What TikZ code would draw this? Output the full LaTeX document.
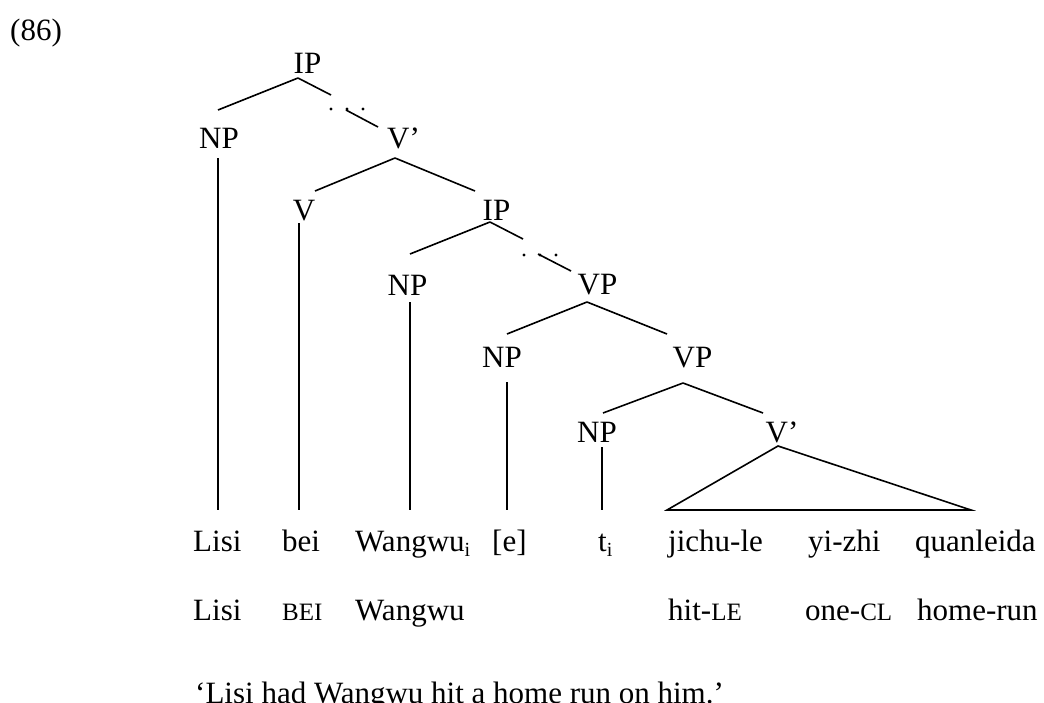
\documentclass[tikz,border=0pt]{standalone}
\usepackage{fontspec}
\setmainfont{Liberation Serif}
\newcommand{\smc}[1]{{\fontsize{25}{30}\selectfont #1}}
\newcommand{\subi}{\raisebox{-5pt}{\fontsize{20}{24}\selectfont i}}
\begin{document}
\begin{tikzpicture}[x=1pt,y=-1pt,
  lab/.style={inner sep=0pt, anchor=base, font=\fontsize{31}{37}\selectfont},
  word/.style={inner sep=0pt, anchor=base west, font=\fontsize{31}{37}\selectfont},
  br/.style={line width=1.6pt},
  dot/.style={fill=black}]
\useasboundingbox (0,0) rectangle (1044,702);

\node[word] (ex) at (10,40) {(86)};
\node[lab] (IPa) at (307.5,73) {IP};
\node[lab] (NPa) at (219,148) {NP};
\node[lab] (Vba) at (403.5,148) {V’};
\node[lab] (V) at (304,220) {V};
\node[lab] (IPb) at (496.5,220) {IP};
\node[lab] (NPb) at (407.5,295) {NP};
\node[lab] (VPa) at (597.5,294) {VP};
\node[lab] (NPc) at (502,367) {NP};
\node[lab] (VPb) at (692.5,367) {VP};
\node[lab] (NPd) at (597,442) {NP};
\node[lab] (Vbb) at (782,442) {V’};

\node[word] (w1) at (193,551) {Lisi};
\node[word] (w2) at (282,551) {bei};
\node[word] (w3) at (355,551) {Wangwu\subi};
\node[word] (w4) at (492,551) {[e]};
\node[word] (w5) at (598,551) {t\subi};
\node[word] (w6) at (668,551) {jichu-le};
\node[word] (w7) at (808,551) {yi-zhi};
\node[word] (w8) at (915,551) {quanleida};

\node[word] (g1) at (193,620) {Lisi};
\node[word] (g2) at (282,620) {\smc{BEI}};
\node[word] (g3) at (355,620) {Wangwu};
\node[word] (g6) at (668,620) {hit-\smc{LE}};
\node[word] (g7) at (805,620) {one-\smc{CL}};
\node[word] (g8) at (917,620) {home-run};

\node[word] (tr) at (195,703) {‘Lisi had Wangwu hit a home run on him.’};

% branches
\draw[br] ([shift={(-9.5,5)}]IPa.base) -- ([shift={(-1,-38)}]NPa.base);
\draw[br] ([shift={(-9.5,5)}]IPa.base) -- ++(33,17) ++(15,15) -- ([shift={(-25.5,-21)}]Vba.base);
\fill[dot] ([shift={(23.5,36)}]IPa.base) circle[radius=1.7pt];
\fill[dot] ([shift={(39.5,36)}]IPa.base) circle[radius=1.7pt];
\fill[dot] ([shift={(55.5,36)}]IPa.base) circle[radius=1.7pt];

\draw[br] ([shift={(-8.5,10)}]Vba.base) -- ([shift={(11,-29)}]V.base);
\draw[br] ([shift={(-8.5,10)}]Vba.base) -- ([shift={(-21.5,-29)}]IPb.base);

\draw[br] ([shift={(-6.5,2)}]IPb.base) -- ([shift={(2.5,-41)}]NPb.base);
\draw[br] ([shift={(-6.5,2)}]IPb.base) -- ++(33,17) ++(15,15) -- ([shift={(-26.5,-23)}]VPa.base);
\fill[dot] ([shift={(27.5,35)}]IPb.base) circle[radius=1.7pt];
\fill[dot] ([shift={(43.5,35)}]IPb.base) circle[radius=1.7pt];
\fill[dot] ([shift={(59.5,35)}]IPb.base) circle[radius=1.7pt];

\draw[br] ([shift={(-10.5,8)}]VPa.base) -- ([shift={(5,-33)}]NPc.base);
\draw[br] ([shift={(-10.5,8)}]VPa.base) -- ([shift={(-25.5,-33)}]VPb.base);

\draw[br] ([shift={(-9.5,16)}]VPb.base) -- ([shift={(6,-29)}]NPd.base);
\draw[br] ([shift={(-9.5,16)}]VPb.base) -- ([shift={(-19,-29)}]Vbb.base);

\coordinate (tL) at ([shift={(-1,-41)}]w6.base west);
\coordinate (tR) at ([shift={(56,-41)}]w8.base west);
\draw[br] ([shift={(-4,4)}]Vbb.base) -- (tL) -- (tR) -- cycle;

% verticals
\draw[br] ([shift={(-1,10)}]NPa.base) -- ([shift={(25,-41)}]w1.base west);
\draw[br] ([shift={(-5,3)}]V.base) -- ([shift={(17,-41)}]w2.base west);
\draw[br] ([shift={(2.5,7)}]NPb.base) -- ([shift={(55,-41)}]w3.base west);
\draw[br] ([shift={(5,15)}]NPc.base) -- ([shift={(15,-41)}]w4.base west);
\draw[br] ([shift={(5,5)}]NPd.base) -- ([shift={(4,-41)}]w5.base west);
\end{tikzpicture}
\end{document}
